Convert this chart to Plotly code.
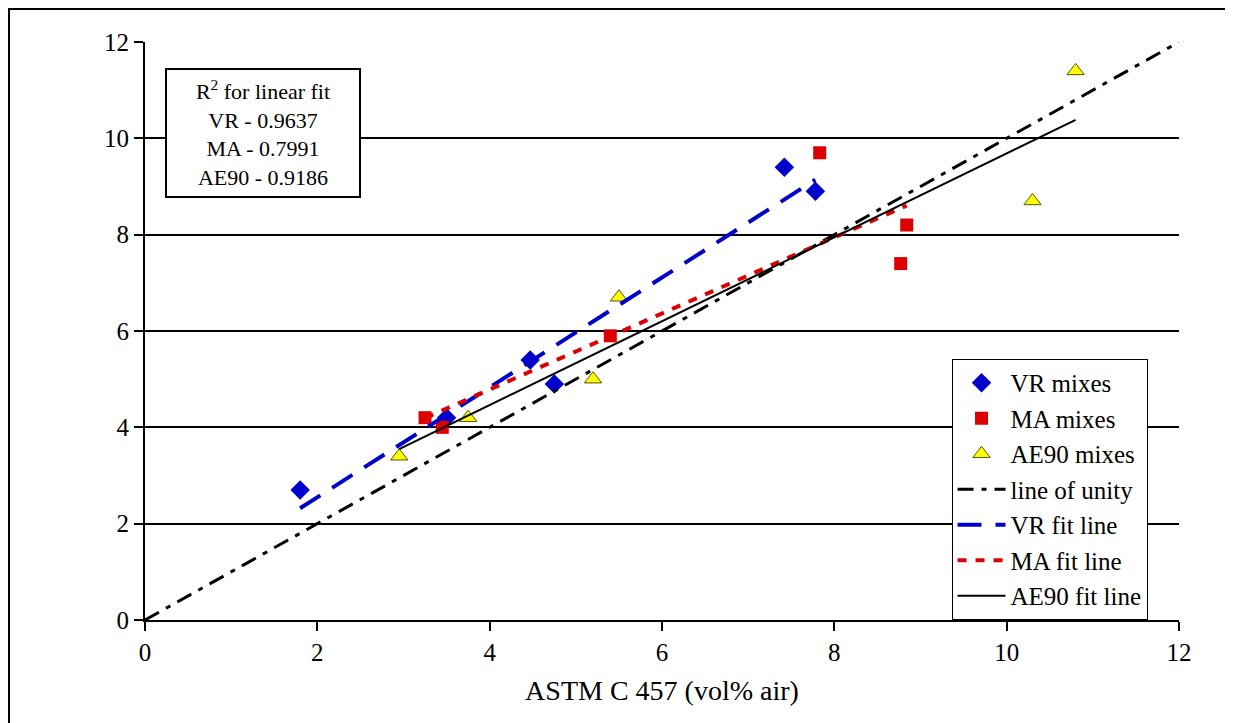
import numpy as np
import plotly.graph_objects as go

# Data
vr_x = [1.80, 3.50, 4.47, 4.75, 7.42, 7.78]
vr_y = [2.70, 4.20, 5.40, 4.90, 9.40, 8.90]
ma_x = [3.25, 3.45, 5.40, 7.83, 8.84, 8.77]
ma_y = [4.20, 4.00, 5.90, 9.70, 8.20, 7.40]
ae_x = [2.95, 3.75, 5.20, 5.50, 10.30, 10.80]
ae_y = [3.40, 4.20, 5.00, 6.70, 8.70, 11.40]
unity = [0, 12]
r2_text = ["VR - 0.9637", "MA - 0.7991", "AE90 - 0.9186"]
x_ticks = [0, 2, 4, 6, 8, 10, 12]
y_ticks = [0, 2, 4, 6, 8, 10, 12]

FONT = "Liberation Serif, Times New Roman, Times, serif"


def fit_line(xs, ys):
    m, b = np.polyfit(xs, ys, 1)
    xe = np.array([min(xs), max(xs)])
    return xe, m * xe + b


fig = go.Figure()

fig.add_trace(go.Scatter(x=vr_x, y=vr_y, mode="markers", name="VR mixes",
                         marker=dict(symbol="diamond", size=15, color="#0000CC",
                                     line=dict(width=0))))
fig.add_trace(go.Scatter(x=ma_x, y=ma_y, mode="markers", name="MA mixes",
                         marker=dict(symbol="square", size=13, color="#DD0000",
                                     line=dict(width=0))))
fig.add_trace(go.Scatter(x=ae_x, y=ae_y, mode="markers", name="AE90 mixes",
                         marker=dict(symbol="triangle-up", size=15, color="#FFFF00",
                                     line=dict(width=1, color="#555500"))))
fig.add_trace(go.Scatter(x=unity, y=unity, mode="lines", name="line of unity",
                         line=dict(color="black", width=3, dash="16px,8px,5px,8px")))
fx, fy = fit_line(vr_x, vr_y)
fig.add_trace(go.Scatter(x=fx, y=fy, mode="lines", name="VR fit line",
                         line=dict(color="#0000CC", width=4, dash="24px,14px")))
fx, fy = fit_line(ma_x, ma_y)
fig.add_trace(go.Scatter(x=fx, y=fy, mode="lines", name="MA fit line",
                         line=dict(color="#DD0000", width=4, dash="9px,9px")))
fx, fy = fit_line(ae_x, ae_y)
fig.add_trace(go.Scatter(x=fx, y=fy, mode="lines", name="AE90 fit line",
                         line=dict(color="black", width=2)))

fig.update_layout(
    width=1225, height=715,
    margin=dict(l=137, r=54, t=34, b=103),
    paper_bgcolor="white", plot_bgcolor="white",
    font=dict(family=FONT, color="black", size=24),
    showlegend=True,
    legend=dict(x=0.780, y=0.4516, xanchor="left", yanchor="top",
                bgcolor="white", bordercolor="black", borderwidth=1,
                font=dict(family=FONT, size=25, color="black"),
                itemwidth=48, tracegroupgap=0),
    xaxis=dict(range=[0, 12], tickvals=x_ticks, showgrid=False, zeroline=False,
               showline=True, linecolor="black", linewidth=2,
               ticks="outside", ticklen=9, tickwidth=2, tickcolor="black",
               tickfont=dict(family=FONT, size=25),
               title=dict(text="ASTM C 457 (vol% air)", font=dict(family=FONT, size=28),
                          standoff=15)),
    yaxis=dict(range=[0, 12], tickvals=y_ticks, showgrid=True, gridcolor="black",
               gridwidth=2, zeroline=False,
               showline=True, linecolor="black", linewidth=2,
               ticks="outside", ticklen=9, tickwidth=2, tickcolor="black",
               tickfont=dict(family=FONT, size=25)),
    annotations=[dict(
        xref="paper", yref="paper", x=0.1146, y=0.8434, xanchor="center", yanchor="middle",
        text="R<sup>2</sup> for linear fit<br>" + "<br>".join(r2_text),
        showarrow=False, align="center",
        font=dict(family=FONT, size=22, color="black"),
        bgcolor="white", bordercolor="black", borderwidth=2, borderpad=2,
        width=188, height=122,
    )],
    shapes=[dict(type="rect", xref="paper", yref="paper",
                 x0=-0.1315, x1=1.2, y0=-0.4, y1=1.0570,
                 line=dict(color="black", width=2), fillcolor="rgba(0,0,0,0)",
                 layer="above")],
)

fig.write_html("out.html")
